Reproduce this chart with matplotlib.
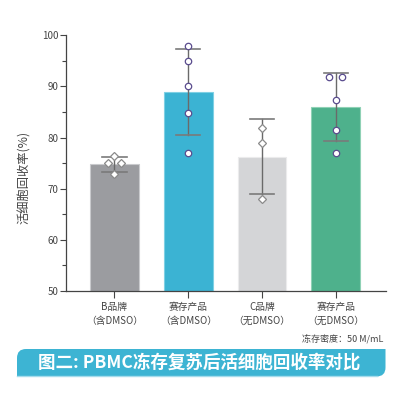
import matplotlib
matplotlib.use("Agg")
import matplotlib.pyplot as plt
from matplotlib.path import Path
from matplotlib.patches import PathPatch
import numpy as np

plt.rcParams['font.family'] = ['Noto Sans CJK SC', 'DejaVu Sans']

# data
groups = ["B品牌\n（含DMSO）", "赛存产品\n（含DMSO）", "C品牌\n（无DMSO）", "赛存产品\n（无DMSO）"]
means = [74.8, 89.0, 76.3, 85.9]
err_lo = [73.2, 80.6, 68.9, 79.3]
err_hi = [76.3, 97.3, 83.6, 92.6]
pts_b = [76.4, 75.0, 75.0, 72.8]
pts_b_dx = [0.0, -0.09, 0.09, 0.0]
pts_sc1 = [98.0, 94.9, 90.1, 84.9, 76.9]
pts_sc1_dx = [0, 0, 0, 0, 0]
pts_c = [81.9, 78.9, 67.9]
pts_c_dx = [0, 0, 0]
pts_sc2 = [91.9, 91.9, 87.4, 81.5, 76.9]
pts_sc2_dx = [-0.09, 0.09, 0, 0, 0]

bar_colors = ["#9b9ca0", "#3bb3d3", "#d4d5d7", "#4eb18c"]
edge_colors = ["#c9cacd", "#7fd0e4", "#ebebec", "#8fd1b5"]

fig = plt.figure(figsize=(4.09, 3.99), dpi=100)
ax = fig.add_axes([66 / 409, (399 - 291) / 399, (386 - 66) / 409, (291 - 35.3) / 399])

x = np.arange(len(groups))
ax.bar(x, [m - 50 for m in means], bottom=50, width=0.66, color=bar_colors,
       edgecolor=edge_colors, linewidth=0.8, zorder=2)

for i in range(len(groups)):
    ax.plot([x[i], x[i]], [err_lo[i], err_hi[i]], color="#6a6a6a", lw=1.0, zorder=3)
    for y in (err_lo[i], err_hi[i]):
        ax.plot([x[i] - 0.165, x[i] + 0.165], [y, y], color="#7a7a7a", lw=1.2, zorder=3)

point_sets = [(pts_b, pts_b_dx, "D", "#8a8a8a", 4.0),
              (pts_sc1, pts_sc1_dx, "o", "#5a4c8e", 4.6),
              (pts_c, pts_c_dx, "D", "#8a8a8a", 4.0),
              (pts_sc2, pts_sc2_dx, "o", "#5a4c8e", 4.6)]
for i, (vals, dxs, mk, ec, ms) in enumerate(point_sets):
    ax.plot([x[i] + d for d in dxs], vals, linestyle="none", marker=mk, ms=ms,
            mfc="white", mec=ec, mew=0.9, zorder=4)

ax.set_xlim(-0.657, 3.68)
ax.set_ylim(50, 100)
ax.set_yticks([50, 60, 70, 80, 90, 100])
ax.set_yticks([55, 65, 75, 85, 95], minor=True)
ax.set_xticks(x)
ax.set_xticklabels(groups, fontsize=7, color="#444444", linespacing=1.45)
ax.tick_params(axis="y", labelsize=7, colors="#444444", length=4, width=0.8, pad=1.5)
ax.tick_params(axis="y", which="minor", length=3, width=0.8, color="#444444")
ax.tick_params(axis="x", length=5, width=0.8, color="#444444", pad=3)
for s in ("top", "right"):
    ax.spines[s].set_visible(False)
for s in ("left", "bottom"):
    ax.spines[s].set_color("#444444")
    ax.spines[s].set_linewidth(0.9)
ax.set_ylabel("活细胞回收率(%)", fontsize=8.8, color="#444444")
ax.yaxis.set_label_coords(-0.11, 0.445)

# overlay in pixel coordinates for the footer
ov = fig.add_axes([0, 0, 1, 1], zorder=5)
ov.set_xlim(0, 409)
ov.set_ylim(399, 0)
ov.axis("off")
ov.patch.set_alpha(0)

ov.text(383, 339, "冻存密度：50 M/mL", fontsize=6.5, color="#444444",
        ha="right", va="center")

x0, x1, y0, y1, r = 17, 385.5, 349, 376.5, 9
verts = [(x0, y1), (x0, y0 + r), (x0, y0), (x0 + r, y0), (x1, y0), (x1, y1 - r),
         (x1, y1), (x1 - r, y1), (x0, y1)]
codes = [Path.MOVETO, Path.LINETO, Path.CURVE3, Path.CURVE3, Path.LINETO, Path.LINETO,
         Path.CURVE3, Path.CURVE3, Path.CLOSEPOLY]
ov.add_patch(PathPatch(Path(verts, codes), facecolor="#3db4d3", edgecolor="none"))
ov.plot([x0, x1 - r], [y1 - 0.5, y1 - 0.5], color="#a5dcec", lw=1.0)
ov.text(199, 362.5, "图二: PBMC冻存复苏后活细胞回收率对比", fontsize=12.6,
        fontweight="bold", color="white", ha="center", va="center")

fig.savefig("out.png", dpi=100)
